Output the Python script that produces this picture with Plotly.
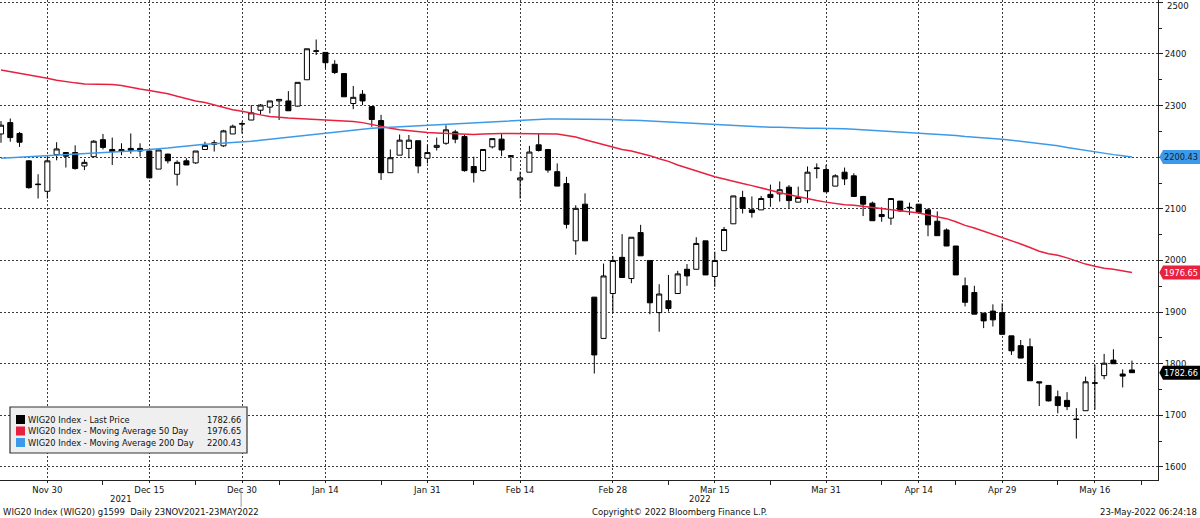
import plotly.graph_objects as go

# ---------------- data ----------------
session_dates = [
    "2021-11-23", "2021-11-24", "2021-11-25", "2021-11-26", "2021-11-29", "2021-11-30",
    "2021-12-01", "2021-12-02", "2021-12-03", "2021-12-06", "2021-12-07", "2021-12-08", "2021-12-09",
    "2021-12-10", "2021-12-13", "2021-12-14", "2021-12-15", "2021-12-16", "2021-12-17", "2021-12-20",
    "2021-12-21", "2021-12-22", "2021-12-23", "2021-12-27", "2021-12-28", "2021-12-29", "2021-12-30",
    "2022-01-03", "2022-01-04", "2022-01-05", "2022-01-07", "2022-01-10", "2022-01-11", "2022-01-12",
    "2022-01-13", "2022-01-14", "2022-01-17", "2022-01-18", "2022-01-19", "2022-01-20", "2022-01-21",
    "2022-01-24", "2022-01-25", "2022-01-26", "2022-01-27", "2022-01-28", "2022-01-31",
    "2022-02-01", "2022-02-02", "2022-02-03", "2022-02-04", "2022-02-07", "2022-02-08", "2022-02-09",
    "2022-02-10", "2022-02-11", "2022-02-14", "2022-02-15", "2022-02-16", "2022-02-17", "2022-02-18",
    "2022-02-21", "2022-02-22", "2022-02-23", "2022-02-24", "2022-02-25", "2022-02-28",
    "2022-03-01", "2022-03-02", "2022-03-03", "2022-03-04", "2022-03-07", "2022-03-08", "2022-03-09",
    "2022-03-10", "2022-03-11", "2022-03-14", "2022-03-15", "2022-03-16", "2022-03-17", "2022-03-18",
    "2022-03-21", "2022-03-22", "2022-03-23", "2022-03-24", "2022-03-25", "2022-03-28", "2022-03-29",
    "2022-03-30", "2022-03-31",
    "2022-04-01", "2022-04-04", "2022-04-05", "2022-04-06", "2022-04-07", "2022-04-08", "2022-04-11",
    "2022-04-12", "2022-04-13", "2022-04-14", "2022-04-19", "2022-04-20", "2022-04-21", "2022-04-22",
    "2022-04-25", "2022-04-26", "2022-04-27", "2022-04-28", "2022-04-29",
    "2022-05-02", "2022-05-04", "2022-05-05", "2022-05-06", "2022-05-09", "2022-05-10", "2022-05-11",
    "2022-05-12", "2022-05-13", "2022-05-16", "2022-05-17", "2022-05-18", "2022-05-19", "2022-05-20",
    "2022-05-23",
]

opens = [
    2245, 2267, 2246, 2193, 2148, 2134, 2205, 2209, 2209, 2183, 2201, 2234, 2215, 2211, 2217, 2217,
    2212, 2177, 2206, 2167, 2193, 2189, 2215, 2225, 2222, 2245, 2264, 2272, 2291, 2297, 2309, 2309,
    2299, 2350, 2405, 2403, 2380, 2362, 2304, 2322, 2298, 2271, 2170, 2204, 2217, 2232, 2198, 2219,
    2227, 2249, 2240, 2182, 2174, 2220, 2235, 2203, 2156, 2171, 2224, 2215, 2172, 2149, 2038, 2109,
    1929, 1849, 1936, 2006, 1965, 2054, 2000, 1899, 1922, 1936, 1983, 1983, 2038, 1969, 2019, 2071,
    2122, 2098, 2098, 2128, 2129, 2142, 2113, 2135, 2178, 2176, 2144, 2171, 2164, 2124, 2111, 2089,
    2082, 2115, 2103, 2109, 2098, 2076, 2059, 2028, 1951, 1938, 1898, 1902, 1899, 1854, 1835, 1833,
    1765, 1758, 1736, 1729, 1693, 1709, 1762, 1777, 1807, 1780, 1788,
]
highs = [
    2270, 2275, 2249, 2194, 2167, 2201, 2229, 2210, 2223, 2196, 2233, 2245, 2238, 2227, 2246, 2227,
    2213, 2214, 2207, 2194, 2198, 2212, 2230, 2233, 2253, 2263, 2269, 2301, 2303, 2309, 2312, 2328,
    2345, 2410, 2428, 2403, 2388, 2362, 2338, 2330, 2299, 2282, 2215, 2244, 2243, 2232, 2224, 2238,
    2262, 2253, 2243, 2201, 2215, 2236, 2245, 2204, 2172, 2222, 2245, 2215, 2188, 2162, 2107, 2130,
    1929, 1994, 2009, 2051, 2045, 2069, 2000, 1954, 1972, 1980, 1993, 2045, 2038, 2017, 2065, 2125,
    2135, 2124, 2125, 2147, 2153, 2146, 2143, 2182, 2188, 2185, 2167, 2180, 2169, 2125, 2114, 2103,
    2120, 2115, 2112, 2109, 2101, 2095, 2062, 2028, 1967, 1951, 1898, 1915, 1917, 1854, 1846, 1849,
    1765, 1758, 1748, 1745, 1714, 1775, 1798, 1819, 1828, 1789, 1806,
]
lows = [
    2228, 2230, 2220, 2139, 2120, 2120, 2194, 2180, 2176, 2175, 2200, 2215, 2185, 2204, 2207, 2201,
    2159, 2177, 2188, 2145, 2185, 2187, 2214, 2211, 2220, 2245, 2246, 2272, 2282, 2285, 2272, 2290,
    2298, 2350, 2398, 2372, 2361, 2317, 2293, 2301, 2259, 2156, 2170, 2204, 2198, 2169, 2188, 2213,
    2224, 2227, 2172, 2151, 2172, 2217, 2202, 2173, 2120, 2171, 2211, 2170, 2144, 2062, 2011, 2038,
    1781, 1849, 1898, 1967, 1956, 2009, 1896, 1862, 1901, 1936, 1951, 1983, 1972, 1949, 2019, 2071,
    2091, 2083, 2098, 2104, 2114, 2101, 2113, 2111, 2159, 2133, 2144, 2146, 2124, 2086, 2077, 2075,
    2069, 2094, 2088, 2090, 2047, 2048, 2028, 1972, 1911, 1896, 1869, 1872, 1857, 1817, 1811, 1767,
    1718, 1727, 1704, 1710, 1655, 1709, 1711, 1770, 1800, 1754, 1782.66,
]
closes = [
    2262, 2238, 2229, 2141, 2147, 2193, 2216, 2202, 2178, 2190, 2231, 2219, 2211, 2215, 2213, 2212,
    2160, 2214, 2193, 2190, 2185, 2212, 2223, 2228, 2251, 2260, 2265, 2286, 2301, 2309, 2312, 2290,
    2345, 2410, 2406, 2383, 2364, 2317, 2316, 2309, 2273, 2170, 2199, 2233, 2233, 2183, 2209, 2223,
    2253, 2235, 2174, 2170, 2215, 2236, 2214, 2202, 2160, 2210, 2213, 2175, 2144, 2070, 2101, 2038,
    1817, 1970, 2000, 1967, 2045, 2009, 1918, 1935, 1907, 1974, 1970, 2033, 1972, 2000, 2060, 2125,
    2101, 2093, 2120, 2122, 2137, 2116, 2122, 2171, 2179, 2133, 2164, 2158, 2124, 2109, 2077, 2085,
    2120, 2096, 2102, 2093, 2069, 2048, 2028, 1972, 1919, 1896, 1883, 1885, 1857, 1825, 1811, 1767,
    1763, 1728, 1719, 1717, 1692, 1765, 1763, 1801, 1800, 1776, 1782.66,
]
ma50 = [
    2369, 2366, 2362, 2359, 2356, 2353, 2349, 2346, 2344, 2342, 2342, 2341, 2341, 2339, 2335, 2332,
    2329, 2326, 2323, 2318, 2313, 2309, 2306, 2301, 2296, 2292, 2289, 2285, 2282, 2279, 2277, 2276,
    2275, 2274, 2273, 2273, 2272, 2271, 2269, 2267, 2263, 2259, 2256, 2253, 2251, 2249, 2248, 2247,
    2246, 2245, 2244, 2244, 2245, 2246, 2246, 2246, 2246, 2246, 2246, 2246, 2245, 2242, 2239, 2234,
    2229, 2224, 2219, 2215, 2212, 2208, 2203, 2197, 2192, 2185, 2179, 2174, 2168, 2162, 2158, 2153,
    2149, 2145, 2141, 2136, 2131, 2127, 2123, 2120, 2116, 2113, 2110, 2108, 2107, 2105, 2103, 2101,
    2099, 2097, 2095, 2092, 2088, 2085, 2081, 2075, 2068, 2063, 2057, 2051, 2045, 2039, 2032, 2025,
    2018, 2013, 2010, 2005, 1999, 1993, 1989, 1985, 1983, 1980, 1976.65,
]
ma200 = [
    2198, 2199, 2200, 2200, 2201, 2202, 2203, 2204, 2205, 2206, 2207, 2208, 2209, 2210, 2211, 2213,
    2215, 2216, 2218, 2220, 2222, 2224, 2225, 2226, 2227, 2228, 2229, 2231, 2233, 2235, 2237, 2239,
    2241, 2243, 2245, 2247, 2249, 2251, 2253, 2255, 2256, 2257, 2258, 2259, 2260, 2261, 2262, 2263,
    2264, 2265, 2266, 2267, 2268, 2269, 2270, 2271, 2272, 2273, 2273, 2274, 2274, 2274, 2274, 2274,
    2274, 2273, 2273, 2272, 2272, 2271, 2270, 2269, 2268, 2267, 2266, 2265, 2264, 2263, 2262, 2261,
    2260, 2260, 2259, 2258, 2258, 2257, 2257, 2256, 2256, 2256, 2255, 2255, 2254, 2253, 2252, 2251,
    2250, 2249, 2248, 2247, 2246, 2244, 2243, 2242, 2240, 2239, 2238, 2237, 2235, 2233, 2231, 2229,
    2227, 2225, 2222, 2219, 2216, 2213, 2210, 2207, 2205, 2203, 2200.43,
]

tick_dates = ["2021-11-30", "2021-12-15", "2021-12-30", "2022-01-14", "2022-01-31", "2022-02-14",
              "2022-02-28", "2022-03-15", "2022-03-31", "2022-04-14", "2022-04-29", "2022-05-16"]
tick_labels = ["Nov 30", "Dec 15", "Dec 30", "Jan 14", "Jan 31", "Feb 14",
               "Feb 28", "Mar 15", "Mar 31", "Apr 14", "Apr 29", "May 16"]
minor_dates = ["2021-12-08", "2021-12-22", "2022-01-07", "2022-01-24", "2022-02-07",
               "2022-03-08", "2022-03-23", "2022-04-08", "2022-04-22", "2022-05-10", "2022-05-23"]
y_ticks = [1600, 1700, 1800, 1900, 2000, 2100, 2200, 2300, 2400, 2500]
y_labels = ["1600", "1700", "1800", "1900", "2000", "2100", "2200", "2300", "2400", "2500"]

series_names = ["WIG20 Index - Last Price", "WIG20 Index - Moving Average 50 Day",
                "WIG20 Index - Moving Average 200 Day"]
last_values = ["1782.66", "1976.65", "2200.43"]

# ---------------- styling ----------------
FONT = "DejaVu Sans"
FS = 8.5
RED = "#e8213f"
BLUE = "#3d9ae8"
GRID = "#3a3a3a"
TXT = "#111111"

x = list(range(len(closes)))
X_RANGE = [-0.108, 124.81]
Y_RANGE = [1574.8, 2504.5]
PX_PER_UNIT = 480 / (Y_RANGE[1] - Y_RANGE[0])

fig = go.Figure()
fig.add_trace(go.Candlestick(
    x=x, open=opens, high=highs, low=lows, close=closes,
    increasing=dict(line=dict(color="black", width=1), fillcolor="white"),
    decreasing=dict(line=dict(color="black", width=1), fillcolor="black"),
    whiskerwidth=0, showlegend=False, hoverinfo="skip",
))
fig.add_trace(go.Scatter(x=x, y=ma50, mode="lines", line=dict(color=RED, width=1.5),
                         showlegend=False, hoverinfo="skip"))
fig.add_trace(go.Scatter(x=x, y=ma200, mode="lines", line=dict(color=BLUE, width=1.5),
                         showlegend=False, hoverinfo="skip"))

tickvals = [session_dates.index(d) for d in tick_dates]
minorvals = [session_dates.index(d) for d in minor_dates]

# top label (2500) is drawn as an annotation nudged inside the page;
# the 2200 label is hidden under the 200-day value tag, as in the original
axis_text = ["" if v in (2500, 2200) else t for v, t in zip(y_ticks, y_labels)]

fig.update_layout(
    width=1200, height=518,
    margin=dict(l=0, r=42, t=0, b=38),
    paper_bgcolor="white", plot_bgcolor="white",
    font=dict(family=FONT, size=FS, color=TXT),
    boxgap=0.22,
    showlegend=False,
    xaxis=dict(
        range=X_RANGE, rangeslider=dict(visible=False),
        tickmode="array", tickvals=tickvals, ticktext=tick_labels,
        showgrid=True, gridcolor=GRID, griddash="2px,2px", gridwidth=1,
        ticks="outside", ticklen=2, tickcolor="#222",
        showline=True, linecolor="#222", linewidth=1, zeroline=False,
        minor=dict(tickmode="array", tickvals=minorvals, ticks="outside", ticklen=4,
                   tickcolor="#222", showgrid=False),
        tickfont=dict(family=FONT, size=FS, color=TXT),
    ),
    yaxis=dict(
        range=Y_RANGE, side="right",
        tickmode="array", tickvals=y_ticks, ticktext=axis_text,
        showgrid=True, gridcolor=GRID, griddash="2px,2px", gridwidth=1,
        ticks="outside", ticklen=4, tickcolor="#222",
        showline=True, linecolor="#222", linewidth=1, zeroline=False,
        minor=dict(dtick=50, tick0=1600, ticks="outside", ticklen=3, tickcolor="#222", showgrid=False),
        tickfont=dict(family=FONT, size=FS, color=TXT),
    ),
)

shapes = []
annotations = []


def px_x(p):
    return p / 1158


def px_y(p):
    return (480 - p) / 480


annotations.append(dict(x=px_x(1165), y=px_y(6), xref="paper", yref="paper", text=y_labels[-1],
                        showarrow=False, xanchor="left", yanchor="middle",
                        font=dict(family=FONT, size=FS, color=TXT)))

# value tags on right axis
half = 7 / PX_PER_UNIT
tag_specs = [(float(last_values[0]), "black", "white", last_values[0]),
             (float(last_values[1]), RED, "white", last_values[1]),
             (float(last_values[2]), BLUE, "#0c1a3a", last_values[2])]
x_tip, x_sh, x_end = px_x(1159.3), px_x(1163), px_x(1201)
for v, bg, fg, txt in tag_specs:
    path = (f"M {x_tip},{v} L {x_sh},{v + half} L {x_end},{v + half} "
            f"L {x_end},{v - half} L {x_sh},{v - half} Z")
    shapes.append(dict(type="path", path=path, xref="paper", yref="y",
                       fillcolor=bg, line=dict(width=0), layer="above"))
    annotations.append(dict(x=px_x(1199), y=v, xref="paper", yref="y", text=txt,
                            showarrow=False, xanchor="right", yanchor="middle", borderpad=0,
                            font=dict(family=FONT, size=8.2, color=fg)))

# legend box
shapes.append(dict(type="rect", xref="paper", yref="paper",
                   x0=px_x(10), x1=px_x(247), y0=px_y(453), y1=px_y(407),
                   fillcolor="#efefef", line=dict(color="#333", width=1.2), layer="above"))
leg_colors = ["black", RED, BLUE]
for k, (name, val, col) in enumerate(zip(series_names, last_values, leg_colors)):
    yc = 419.5 + 11.5 * k
    shapes.append(dict(type="rect", xref="paper", yref="paper",
                       x0=px_x(16), x1=px_x(25), y0=px_y(yc + 4.5), y1=px_y(yc - 4.5),
                       fillcolor=col, line=dict(width=0), layer="above"))
    annotations.append(dict(x=px_x(27), y=px_y(yc), xref="paper", yref="paper", text=name,
                            showarrow=False, xanchor="left", yanchor="middle", borderpad=0,
                            font=dict(family=FONT, size=8.3, color=TXT)))
    annotations.append(dict(x=px_x(242), y=px_y(yc), xref="paper", yref="paper", text=val,
                            showarrow=False, xanchor="right", yanchor="middle", borderpad=0,
                            font=dict(family=FONT, size=8.3, color=TXT)))

# year labels and separator
sep = session_dates.index("2021-12-30") - 0.1
shapes.append(dict(type="line", xref="x", yref="paper", x0=sep, x1=sep,
                   y0=px_y(490), y1=px_y(507), line=dict(color="#999", width=1)))
annotations.append(dict(x=(X_RANGE[0] + sep) / 2, y=px_y(499.5), xref="x", yref="paper", text="2021",
                        showarrow=False, xanchor="center", yanchor="middle",
                        font=dict(family=FONT, size=FS, color=TXT)))
annotations.append(dict(x=(sep + X_RANGE[1]) / 2, y=px_y(499.5), xref="x", yref="paper", text="2022",
                        showarrow=False, xanchor="center", yanchor="middle",
                        font=dict(family=FONT, size=FS, color=TXT)))

# footer
annotations.append(dict(x=px_x(1), y=px_y(511.5), xref="paper", yref="paper",
                        text="WIG20 Index (WIG20) g1599  Daily 23NOV2021-23MAY2022",
                        showarrow=False, xanchor="left", yanchor="middle",
                        font=dict(family=FONT, size=FS, color=TXT)))
annotations.append(dict(x=px_x(679), y=px_y(511.5), xref="paper", yref="paper",
                        text="Copyright© 2022 Bloomberg Finance L.P.",
                        showarrow=False, xanchor="center", yanchor="middle",
                        font=dict(family=FONT, size=FS, color=TXT)))
annotations.append(dict(x=px_x(1198.5), y=px_y(511.5), xref="paper", yref="paper",
                        text="23-May-2022 06:24:18",
                        showarrow=False, xanchor="right", yanchor="middle",
                        font=dict(family=FONT, size=FS, color=TXT)))

fig.update_layout(shapes=shapes, annotations=annotations)
fig.write_html("out.html")
